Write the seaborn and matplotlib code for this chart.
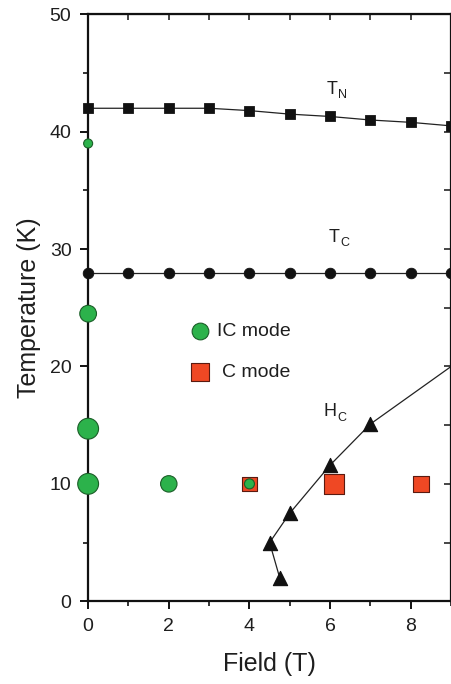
import matplotlib
matplotlib.use("Agg")
import matplotlib.pyplot as plt
import seaborn as sns
from matplotlib.ticker import MultipleLocator

# phase boundaries
field = [0, 1, 2, 3, 4, 5, 6, 7, 8, 9]
t_n = [42.0, 42.0, 42.0, 42.0, 41.8, 41.5, 41.3, 41.0, 40.8, 40.5]
t_c = [28, 28, 28, 28, 28, 28, 28, 28, 28, 28]

hc_field = [4.75, 4.5, 5.0, 6.0, 7.0, 9.0]
hc_temp = [2.0, 5.0, 7.5, 11.6, 15.1, 20.0]

# IC mode points (green circles), marker areas
ic_field = [0, 0, 0, 0, 2, 4]
ic_temp = [39.0, 24.5, 14.7, 10.0, 10.0, 10.0]
ic_size = [42, 145, 225, 225, 140, 52]

# C mode points (red squares)
c_field = [4.0, 6.1, 8.25]
c_temp = [10.0, 10.0, 10.0]
c_size = [110, 205, 140]

green = "#2cb24b"
red = "#ef4824"
ink = "#1e1e1e"

sns.set_style("ticks")
plt.rcParams["font.family"] = ["Liberation Sans", "DejaVu Sans"]

fig = plt.figure(figsize=(4.52, 6.84), dpi=100)
ax = fig.add_axes([0.195, 0.121, 0.803, 0.858])

# TN
sns.lineplot(x=field, y=t_n, ax=ax, color="#222222", lw=0.9, zorder=2)
sns.scatterplot(x=field, y=t_n, ax=ax, marker="s", s=52, color="#111111",
                edgecolor="#111111", zorder=3, clip_on=False)
# TC
sns.lineplot(x=field, y=t_c, ax=ax, color="#222222", lw=0.9, zorder=2)
sns.scatterplot(x=field, y=t_c, ax=ax, marker="o", s=58, color="#111111",
                edgecolor="#111111", zorder=3, clip_on=False)
# HC
ax.plot(hc_field, hc_temp, color="#222222", lw=0.9, zorder=2)
sns.scatterplot(x=hc_field[:-1], y=hc_temp[:-1], ax=ax, marker="^", s=105,
                color="#111111", edgecolor="#111111", zorder=3)

# modes
sns.scatterplot(x=c_field, y=c_temp, ax=ax, marker="s", s=c_size, color=red,
                edgecolor="#5a1a10", linewidth=0.8, zorder=4)
sns.scatterplot(x=ic_field, y=ic_temp, ax=ax, marker="o", s=ic_size, color=green,
                edgecolor="#1b5e28", linewidth=0.8, zorder=5, clip_on=False)

# manual legend
ax.scatter([2.77], [23.0], s=145, color=green, edgecolor="#1b5e28", linewidth=0.8, zorder=5)
ax.text(3.2, 23.0, "IC mode", fontsize=14, va="center", ha="left", color=ink)
ax.scatter([2.77], [19.5], s=170, marker="s", color=red, edgecolor="#5a1a10", linewidth=0.8, zorder=5)
ax.text(3.33, 19.5, "C mode", fontsize=14, va="center", ha="left", color=ink)

# curve labels
ax.text(6.05, 43.6, "T", fontsize=13, ha="center", va="center", color=ink)
ax.text(6.3, 43.1, "N", fontsize=9, ha="center", va="center", color=ink)
ax.text(6.1, 31.0, "T", fontsize=13, ha="center", va="center", color=ink)
ax.text(6.36, 30.5, "C", fontsize=9, ha="center", va="center", color=ink)
ax.text(6.0, 16.2, "H", fontsize=13, ha="center", va="center", color=ink)
ax.text(6.3, 15.6, "C", fontsize=9, ha="center", va="center", color=ink)

ax.set_xlim(0, 9)
ax.set_ylim(0, 50)
ax.xaxis.set_major_locator(MultipleLocator(2))
ax.xaxis.set_minor_locator(MultipleLocator(1))
ax.yaxis.set_major_locator(MultipleLocator(10))
ax.yaxis.set_minor_locator(MultipleLocator(5))

for side in ["left", "right", "top", "bottom"]:
    ax.spines[side].set_visible(True)
    ax.spines[side].set_linewidth(1.6)
    ax.spines[side].set_color("#111111")

ax.tick_params(which="major", direction="out", length=6, width=1.4, labelsize=14,
               colors="#111111", labelcolor=ink, pad=6)
ax.tick_params(which="minor", direction="out", length=3.5, width=1.2, colors="#111111")

# top/right ticks point inward
sec_x = ax.secondary_xaxis("top")
sec_x.xaxis.set_major_locator(MultipleLocator(2))
sec_x.xaxis.set_minor_locator(MultipleLocator(1))
sec_x.tick_params(which="both", direction="in", labeltop=False, length=4, width=1.2)
sec_y = ax.secondary_yaxis("right")
sec_y.yaxis.set_major_locator(MultipleLocator(10))
sec_y.yaxis.set_minor_locator(MultipleLocator(5))
sec_y.tick_params(which="both", direction="in", labelright=False, length=5, width=1.2)

ax.set_xlabel("Field (T)", fontsize=18, color=ink, labelpad=12)
ax.set_ylabel("Temperature (K)", fontsize=18, color=ink, labelpad=6)

fig.savefig("out.png", dpi=100)
